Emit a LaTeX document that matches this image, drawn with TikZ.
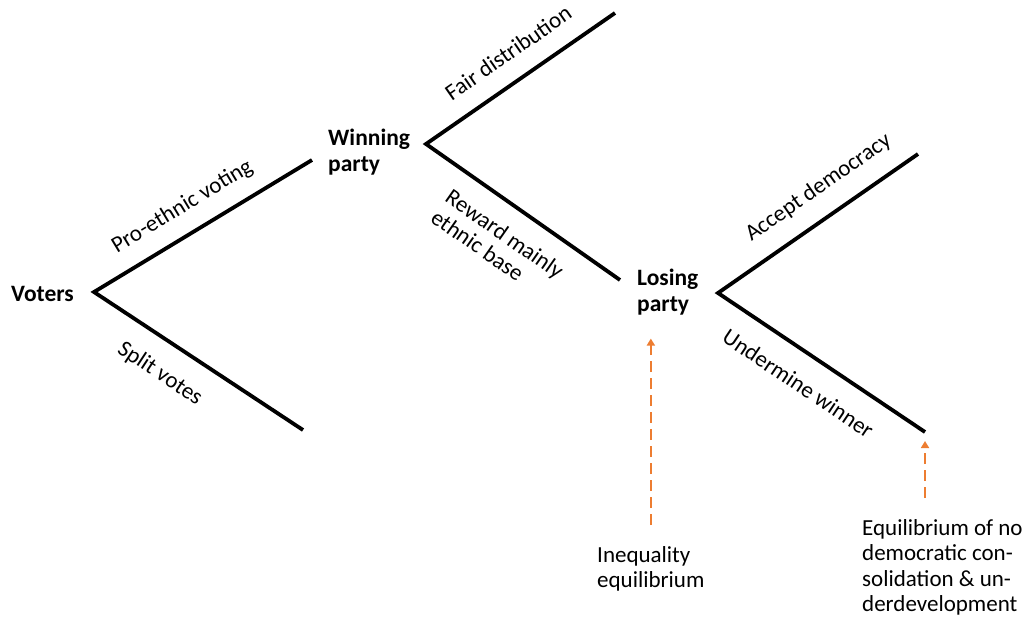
\documentclass[tikz,border=0pt]{standalone}
\usepackage{fontspec}
\setmainfont{Carlito}
\usetikzlibrary{arrows.meta,positioning}
\definecolor{Orange}{HTML}{ED7D31}
\tikzset{
  branch/.style={line width=3.8pt, draw=black},
  player/.style={font=\fontsize{23.5}{26}\selectfont\bfseries, inner sep=0pt, align=left},
  move/.style={font=\fontsize{23}{25}\selectfont, inner sep=0pt, sloped},
  note/.style={font=\fontsize{23}{25.5}\selectfont, inner sep=0pt, align=left},
  dasharr/.style={-{Triangle[length=7pt,width=8pt]}, line width=2.6pt, draw=Orange, dash pattern=on 11pt off 6pt}
}

\begin{document}
\begin{tikzpicture}[x=1pt,y=-1pt]
\useasboundingbox (0,0) rectangle (1024,616);
% decision points and branch ends
\coordinate (v) at (94,292);
\coordinate (vP) at (312,160);
\coordinate (vS) at (303,430);
\coordinate (w) at (426,144);
\coordinate (wF) at (615,13);
\coordinate (wR) at (620,280);
\coordinate (l) at (718,293);
\coordinate (lA) at (918,154);
\coordinate (lU) at (925,432);

% players
\node[player, anchor=north west] (voters) at (11,286) {Voters};
\node[player, anchor=north west] (winning) at (328,129) {Winning\\party};
\node[player, anchor=north west] (losing) at (637,269) {Losing\\party};

% branches
\draw[branch] (vP) -- (v) -- (vS);
\draw[branch] (wF) -- (w) -- (wR);
\draw[branch] (lA) -- (l) -- (lU);

% moves
\path (v) -- node[move, above=17pt, pos=.47] (proeth) {Pro-ethnic voting} (vP)
      (v) -- node[move, below=22pt, pos=.40] (split) {Split votes} (vS);
\path (w) -- node[move, above=20pt, pos=.52] (fair) {Fair distribution} (wF)
      (w) -- node[move, align=left, below=20pt, pos=.49] (reward) {Reward mainly\\ethnic base} (wR);
\path (l) -- node[move, above=19pt, pos=.585] (accept) {Accept democracy} (lA)
      (l) -- node[move, below=22pt, pos=.47] (undermine) {Undermine winner} (lU);

% equilibria
\node[note, anchor=north west] (ineq) at (597,546) {Inequality\\equilibrium};
\node[note, anchor=north west] (nocons) at (862,519) {Equilibrium of no\\democratic con-\\solidation \& un-\\derdevelopment};
\draw[dasharr, shorten <=21pt, shorten >=23pt] (ineq.north) -- (ineq.north |- losing.south);
\draw[dasharr, shorten <=21pt, shorten >=9pt] (nocons.north -| lU) -- (lU);
\end{tikzpicture}
\end{document}
